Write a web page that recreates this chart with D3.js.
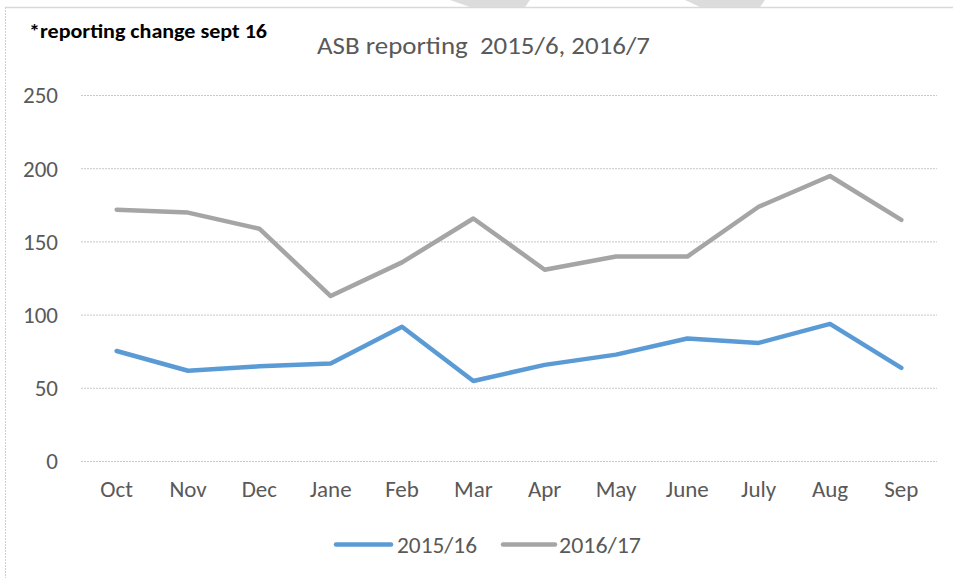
<!DOCTYPE html>
<html><head><meta charset="utf-8">
<script src="https://cdn.jsdelivr.net/npm/d3@7"></script>
<style>
body{margin:0;background:#fff;}
svg text{font-family:"Carlito","Lato","Open Sans",sans-serif;}
</style></head>
<body><svg id="c" width="953" height="578"></svg>
<script>
const categories = ["Oct","Nov","Dec","Jane","Feb","Mar","Apr","May","June","July","Aug","Sep"];
const series1516 = [75.5,62,65,67,92,55,66,73,84,81,94,64];
const series1617 = [172,170,159,113,136,166,131,140,140,174,195,165];
const seriesNames = ["2015/16","2016/17"];
const yTicks = [0,50,100,150,200,250];
const colors = ["#5B9BD5","#A5A5A5"];

const svg = d3.select("#c");
// watermark shapes and frame
svg.append("polygon").attr("points","450,0 530,0 525,7 470,7").attr("fill","#dcdcdc");
svg.append("polygon").attr("points","685,0 765,0 760,7 700,7").attr("fill","#dcdcdc");
svg.append("line").attr("x1",5).attr("x2",953).attr("y1",7.5).attr("y2",7.5).attr("stroke","#d9d9d9").attr("stroke-width",1.5);
svg.append("line").attr("x1",5.5).attr("x2",5.5).attr("y1",7).attr("y2",578).attr("stroke","#cfcfcf").attr("stroke-dasharray","2,1");

const x = d3.scaleBand().domain(categories).range([81,937]);
const y = d3.scaleLinear().domain([0,250]).range([461.5,95.5]);

// gridlines
svg.append("g").selectAll("line").data(yTicks).join("line")
  .attr("x1",81).attr("x2",937).attr("y1",d=>y(d)).attr("y2",d=>y(d))
  .attr("stroke","#c8c8c8").attr("stroke-width",1).attr("stroke-dasharray","2,1");

// y axis labels
const yAxis = d3.axisLeft(y).tickValues(yTicks).tickSize(0).tickPadding(0);
const gy = svg.append("g").attr("transform","translate(58,0)").call(yAxis);
gy.select(".domain").remove();
gy.selectAll("text").attr("fill","#595959").attr("dy","0.32em").style("font-size","23px");

// x axis labels
const xAxis = d3.axisBottom(x).tickSize(0).tickPadding(0);
const gx = svg.append("g").attr("transform","translate(0,481)").call(xAxis);
gx.select(".domain").remove();
gx.selectAll("text").attr("fill","#595959").style("font-size","23px");

const line = d3.line().x((d,i)=>x(categories[i])+x.bandwidth()/2).y(d=>y(d));
[[series1617,1],[series1516,0]].forEach(([s,ci])=>{
  svg.append("path").datum(s).attr("d",line).attr("fill","none")
    .attr("stroke",colors[ci]).attr("stroke-width",4.5)
    .attr("stroke-linejoin","round").attr("stroke-linecap","round");
});

// title
svg.append("text").attr("x",317).attr("y",53.5)
  .attr("textLength",333).attr("lengthAdjust","spacingAndGlyphs")
  .style("white-space","pre")
  .attr("fill","#595959").style("font-size","25px").text("ASB reporting  2015/6, 2016/7");
svg.append("text").attr("x",29).attr("y",38)
  .attr("textLength",238).attr("lengthAdjust","spacingAndGlyphs")
  .attr("fill","#000").style("font-size","21px").style("font-weight","bold").text("*reporting change sept 16");

// legend
const legendLine = [[336,391],[503,555]];
const legendText = [[397,80],[559,82]];
seriesNames.forEach((n,i)=>{
  svg.append("line").attr("x1",legendLine[i][0]).attr("x2",legendLine[i][1]).attr("y1",544.5).attr("y2",544.5)
    .attr("stroke",colors[i]).attr("stroke-width",4.5).attr("stroke-linecap","round");
  svg.append("text").attr("x",legendText[i][0]).attr("y",552.5).attr("fill","#595959")
    .attr("textLength",legendText[i][1]).attr("lengthAdjust","spacingAndGlyphs")
    .style("font-size","23px").text(n);
});
</script></body></html>
